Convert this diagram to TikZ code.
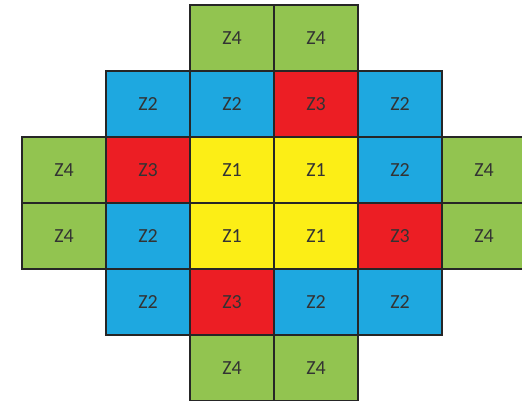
\documentclass[tikz,border=0pt]{standalone}
\usepackage{fontspec}
\setmainfont{Carlito}
\definecolor{zgreen}{RGB}{146,196,80}
\definecolor{zblue}{RGB}{30,168,224}
\definecolor{zred}{RGB}{236,30,36}
\definecolor{zyellow}{RGB}{252,238,22}
\tikzset{
  cell/.style={draw=black!85, line width=1pt, minimum width=42pt, minimum height=33pt,
    inner sep=0pt, outer sep=0pt, font=\fontsize{10}{12}\selectfont, text=black!80},
  Z1/.style={cell, fill=zyellow},
  Z2/.style={cell, fill=zblue},
  Z3/.style={cell, fill=zred},
  Z4/.style={cell, fill=zgreen}
}
\begin{document}
\begin{tikzpicture}[x=0.5pt, y=-0.5pt]
\clip (0,0) rectangle (522,400);
\fill[white] (0,0) rectangle (522,400);
\foreach \r/\c/\z in {0/2/Z4, 0/3/Z4,
    1/1/Z2, 1/2/Z2, 1/3/Z3, 1/4/Z2,
    2/0/Z4, 2/1/Z3, 2/2/Z1, 2/3/Z1, 2/4/Z2, 2/5/Z4,
    3/0/Z4, 3/1/Z2, 3/2/Z1, 3/3/Z1, 3/4/Z3, 3/5/Z4,
    4/1/Z2, 4/2/Z3, 4/3/Z2, 4/4/Z2,
    5/2/Z4, 5/3/Z4}
  \node[\z] (cell-\r-\c) at ({64+84*\c},{38+66*\r}) {\z};
\end{tikzpicture}
\end{document}
